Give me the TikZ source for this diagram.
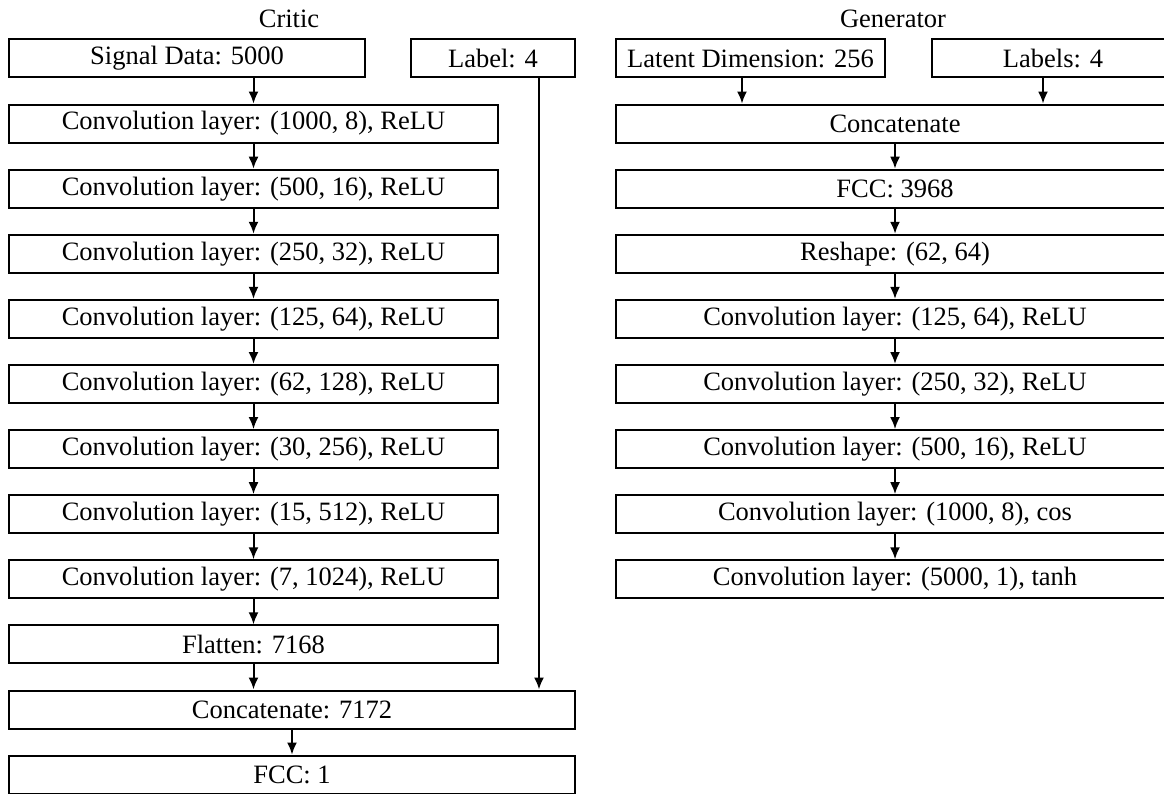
\documentclass[tikz,border=0pt]{standalone}
\usepackage{fontspec}
\setmainfont{Liberation Serif}
\usetikzlibrary{arrows.meta}
\begin{document}
\begin{tikzpicture}[x=1pt,y=-1pt,
  box/.style={draw, line width=2pt, rectangle, inner sep=0pt, minimum height=38pt, font=\fontsize{26.5}{30}\selectfont},
  ttl/.style={inner sep=0pt, anchor=base, font=\fontsize{26.5}{30}\selectfont},
  arr/.style={-{Latex[length=12pt,width=10pt]}, line width=2pt},
  ln/.style={line width=2pt}]
\useasboundingbox (0,0) rectangle (1164,794);
% ---------------- Critic ----------------
\node[ttl] (ct) at (289,28) {Critic};
\node[box, minimum width=356pt] (sig) at (187,58.5) {Signal Data: 5000};
\node[box, minimum width=164pt] (lab) at (493,58.5) {Label: 4};
\node[box, minimum width=489pt] (c1) at (253.5,123.6) {Convolution layer: (1000, 8), ReLU};
\node[box, minimum width=489pt] (c2) at (253.5,188.7) {Convolution layer: (500, 16), ReLU};
\node[box, minimum width=489pt] (c3) at (253.5,253.8) {Convolution layer: (250, 32), ReLU};
\node[box, minimum width=489pt] (c4) at (253.5,318.9) {Convolution layer: (125, 64), ReLU};
\node[box, minimum width=489pt] (c5) at (253.5,384.0) {Convolution layer: (62, 128), ReLU};
\node[box, minimum width=489pt] (c6) at (253.5,449.1) {Convolution layer: (30, 256), ReLU};
\node[box, minimum width=489pt] (c7) at (253.5,514.2) {Convolution layer: (15, 512), ReLU};
\node[box, minimum width=489pt] (c8) at (253.5,579.3) {Convolution layer: (7, 1024), ReLU};
\node[box, minimum width=489pt] (fl) at (253.5,644.4) {Flatten: 7168};
\node[box, minimum width=566pt] (cat) at (292,709.5) {Concatenate: 7172};
\node[box, minimum width=566pt] (fcc) at (292,774.6) {FCC: 1};
\draw[arr] (c1.north |- sig.south) -- (c1.north);
\foreach \a/\b in {c1/c2,c2/c3,c3/c4,c4/c5,c5/c6,c6/c7,c7/c8,c8/fl}
  \draw[arr] (\a.south) -- (\b.north);
\draw[arr] (fl.south) -- (fl.south |- cat.north);
\draw[arr] ([xshift=46pt]lab.south) -- ([xshift=46pt]lab.south |- cat.north);
\draw[arr] (cat.south) -- (fcc.north);
% ---------------- Generator ----------------
\node[ttl] (gt) at (893,28) {Generator};
\node[box, minimum width=269pt] (lat) at (750.5,58.5) {Latent Dimension: 256};
\node[box, minimum width=242pt] (labs) at (1053,58.5) {Labels: 4};
\node[box, minimum width=558pt] (gcat) at (895,123.6) {Concatenate};
\node[box, minimum width=558pt] (gfc) at (895,188.7) {FCC: 3968};
\node[box, minimum width=558pt] (grs) at (895,253.8) {Reshape: (62, 64)};
\node[box, minimum width=558pt] (g1) at (895,318.9) {Convolution layer: (125, 64), ReLU};
\node[box, minimum width=558pt] (g2) at (895,384.0) {Convolution layer: (250, 32), ReLU};
\node[box, minimum width=558pt] (g3) at (895,449.1) {Convolution layer: (500, 16), ReLU};
\node[box, minimum width=558pt] (g4) at (895,514.2) {Convolution layer: (1000, 8), cos};
\node[box, minimum width=558pt] (g5) at (895,579.3) {Convolution layer: (5000, 1), tanh};
\draw[arr] ([xshift=-8.5pt]lat.south) -- ([xshift=-8.5pt]lat.south |- gcat.north);
\draw[arr] ([xshift=-10pt]labs.south) -- ([xshift=-10pt]labs.south |- gcat.north);
\foreach \a/\b in {gcat/gfc,gfc/grs,grs/g1,g1/g2,g2/g3,g3/g4,g4/g5}
  \draw[arr] (\a.south) -- (\b.north);
\end{tikzpicture}
\end{document}
